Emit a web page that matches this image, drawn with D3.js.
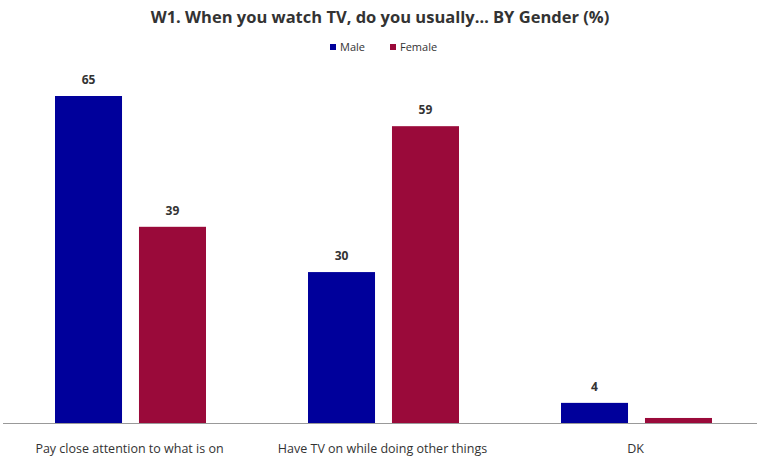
<!DOCTYPE html>
<html><head><meta charset="utf-8">
<script src="https://cdn.jsdelivr.net/npm/d3@7"></script>
<style>body{margin:0;background:#fff}svg{display:block}text{font-family:"Open Sans","Liberation Sans",sans-serif;fill:#333}</style>
</head><body><svg id="c" width="760" height="461"></svg>
<script>
const categories = ["Pay close attention to what is on", "Have TV on while doing other things", "DK"];
const seriesNames = ["Male", "Female"];
const maleValues = [65, 30, 4];
const femaleValues = [39, 59, 1];
const femaleLabels = ["39", "59", ""];
const maleLabels = ["65", "30", "4"];
const colors = ["#00009b", "#9a0a3a"];

(function () {
const svg = d3.select("#c");
const left = 3, right = 762, base = 423;
const x0 = d3.scaleBand().domain(categories).range([left, right]).paddingInner(0).paddingOuter(0);
const x1 = d3.scaleBand().domain(seriesNames).range([55, 206]).paddingInner(0.202).paddingOuter(0);
const y = d3.scaleLinear().domain([0, 65]).range([base, 96]);

svg.append("text").attr("x", 380).attr("y", 23).attr("text-anchor", "middle")
  .style("font-size", "16.5px").style("font-weight", "bold").text("W1. When you watch TV, do you usually… BY Gender (%)");

const leg = svg.append("g");
const legX = [330, 390];
seriesNames.forEach((s, i) => {
  leg.append("rect").attr("x", legX[i]).attr("y", 44).attr("width", 6).attr("height", 6).attr("fill", colors[i]);
  leg.append("text").attr("x", legX[i] + 10).attr("y", 51).style("font-size", "11px").text(s);
});

const data = categories.map((c, i) => ({c, vals: [maleValues[i], femaleValues[i]], labs: [maleLabels[i], femaleLabels[i]]}));
const g = svg.append("g").selectAll("g").data(data).join("g")
  .attr("transform", d => `translate(${x0(d.c) - x0(categories[0])},0)`);
g.selectAll("rect").data(d => d.vals.map((v, j) => ({v, j, lab: d.labs[j]}))).join("rect")
  .attr("x", d => x1(seriesNames[d.j])).attr("width", x1.bandwidth())
  .attr("y", d => y(d.v)).attr("height", d => base - y(d.v)).attr("fill", d => colors[d.j]);
g.selectAll("text.v").data(d => d.vals.map((v, j) => ({v, j, lab: d.labs[j]}))).join("text")
  .attr("class", "v").attr("x", d => x1(seriesNames[d.j]) + x1.bandwidth() / 2).attr("y", d => y(d.v) - 12)
  .attr("text-anchor", "middle").style("font-size", "12px").style("font-weight", "bold").text(d => d.lab);

svg.append("line").attr("x1", 3).attr("x2", 757).attr("y1", base + 0.5).attr("y2", base + 0.5).attr("stroke", "#999").attr("stroke-width", 1);

const xa = d3.axisBottom(x0).tickSize(0).tickPadding(0);
const ax = svg.append("g").attr("transform", `translate(0,${base})`).call(xa);
ax.select(".domain").remove();
ax.selectAll("text").attr("y", 21).style("font-size", "12.5px").style("font-family", "'Open Sans','Liberation Sans',sans-serif").attr("fill", "#333");
})();
</script></body></html>
